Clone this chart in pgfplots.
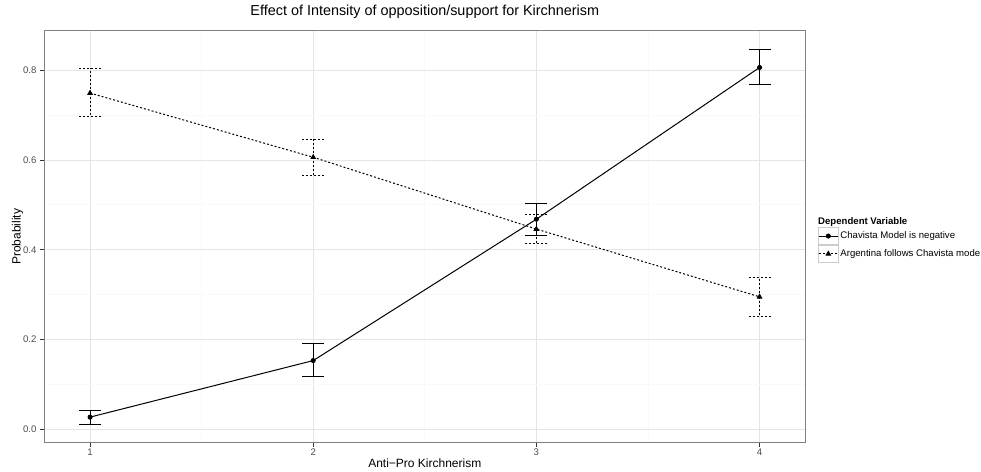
\documentclass[border=0pt]{standalone}
\usepackage{fontspec}
\setmainfont{Liberation Sans}
\usepackage{pgfplots}
\pgfplotsset{compat=1.18}
\definecolor{gridmaj}{gray}{0.9}
\definecolor{gridmin}{gray}{0.975}
\begin{document}
\begin{tikzpicture}
\path[use as bounding box] (-44.3pt,-28.3pt) rectangle (936.7pt,442.7pt);
\begin{axis}[
  at={(0,0)}, anchor=south west,
  scale only axis, width=761pt, height=412pt,
  xmin=0.795, xmax=4.205, ymin=-0.030, ymax=0.888,
  xtick={1,2,3,4}, ytick={0,0.2,0.4,0.6,0.8},
  minor xtick={1.5,2.5,3.5}, minor ytick={0.1,0.3,0.5,0.7},
  grid=both,
  major grid style={gridmaj, line width=0.8pt},
  minor grid style={gridmin, line width=0.8pt},
  axis line style={black!50, line width=0.8pt},
  tick align=outside, major tick length=4.3pt, minor tick length=0pt,
  tick style={black!80, line width=0.8pt},
  xtick pos=left, ytick pos=left,
  ticklabel style={font=\fontsize{9.6}{11}\selectfont, text=black!70},
  xticklabel style={/pgf/number format/assume math mode=true, yshift=1.5pt},
  yticklabel style={/pgf/number format/.cd, fixed, fixed zerofill, precision=1, assume math mode=true},
  title={Effect of Intensity of opposition/support for Kirchnerism},
  title style={at={(axis description cs:0.5,1)}, anchor=center, yshift=12.5pt, font=\fontsize{14.4}{17}\selectfont},
  xlabel={Anti−Pro Kirchnerism},
  xlabel style={at={(axis description cs:0.5,0)}, anchor=center, yshift=-20.3pt, font=\fontsize{12}{14}\selectfont},
  ylabel={Probability},
  ylabel style={at={(axis description cs:0,0.5)}, anchor=center, yshift=26.8pt, font=\fontsize{12}{14}\selectfont},
  legend style={at={(axis description cs:1.0167,0.480)}, anchor=west, draw=none, fill=none,
    font=\fontsize{9.6}{11}\selectfont, inner sep=0pt, row sep=0pt},
  legend cell align=left,
  legend image code/.code={
    \draw[black!20, solid, line width=0.5pt, fill=white] (0pt,-8.65pt) rectangle (19.7pt,8.65pt);
    \draw[#1, mark repeat=2, mark phase=2] plot coordinates {(0.5pt,0pt) (9.85pt,0pt) (19.2pt,0pt)};
  },
]
% Chavista Model is negative
\addplot[black, line width=1pt, mark=*, mark size=2pt, mark options={solid},
  error bars/y dir=both, error bars/y explicit,
  error bars/error bar style={line width=1pt, solid},
  error bars/error mark options={black, line width=1pt, mark size=11pt, rotate=90}]
  coordinates {
    (1,0.027) += (0,0.014) -= (0,0.016)
    (2,0.153) += (0,0.037) -= (0,0.036)
    (3,0.468) += (0,0.035) -= (0,0.036)
    (4,0.806) += (0,0.039) -= (0,0.038)
  };
\addlegendentry{Chavista Model is negative}
% Argentina follows Chavista model
\addplot[black, line width=1pt, dash pattern=on 2pt off 2pt, mark=triangle*, mark size=2.4pt, mark options={solid},
  error bars/y dir=both, error bars/y explicit,
  error bars/error bar style={line width=1pt, dash pattern=on 2pt off 2pt},
  error bars/error mark options={black, line width=1pt, mark size=11pt, rotate=90, dash pattern=on 2pt off 2pt}]
  coordinates {
    (1,0.749) += (0,0.055) -= (0,0.053)
    (2,0.606) += (0,0.040) -= (0,0.041)
    (3,0.446) += (0,0.032) -= (0,0.033)
    (4,0.295) += (0,0.043) -= (0,0.044)
  };
\addlegendentry{Argentina follows Chavista mode}
\end{axis}
\node[anchor=west, inner sep=0pt, font=\bfseries\fontsize{9.6}{11}\selectfont] at (773.7pt,221pt) {Dependent Variable};
\end{tikzpicture}
\end{document}
